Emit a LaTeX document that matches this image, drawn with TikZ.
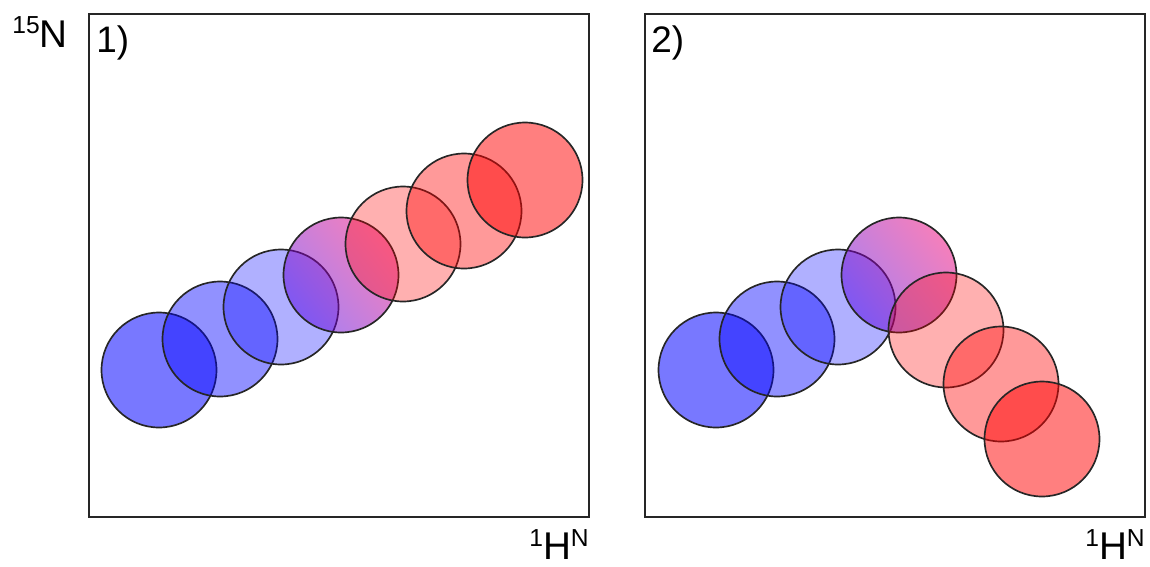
\documentclass[tikz,border=0pt]{standalone}
\usepackage{fontspec}
\setmainfont{Liberation Sans}
\begin{document}
\begin{tikzpicture}[x=0.02cm,y=-0.02cm,
  panel/.style={draw=black!85, line width=0.8pt},
  spot/.style={circle, draw=black!85, line width=0.95pt, minimum size=2.3cm, inner sep=0pt},
  bA/.style={spot, fill=blue, fill opacity=0.53},
  bB/.style={spot, fill=blue, fill opacity=0.43},
  bC/.style={spot, fill=blue, fill opacity=0.31},
  mid/.style={spot, left color={rgb,255:red,80;green,0;blue,230}, right color={rgb,255:red,235;green,0;blue,120}, shading angle=128, fill opacity=0.5},
  rC/.style={spot, fill=red, fill opacity=0.31},
  rB/.style={spot, fill=red, fill opacity=0.40},
  rA/.style={spot, fill=red, fill opacity=0.50},
  big/.style={inner sep=0pt, font=\fontsize{22}{22}\selectfont},
  num/.style={inner sep=0pt, font=\fontsize{21}{21}\selectfont}
]
\useasboundingbox (0,0) rectangle (1150,566);

% panels
\draw[panel] (89,14) rectangle (589,517);
\draw[panel] (645,14) rectangle (1145,517);

% panel 1 circles
\node[bA] (a1) at (159,370) {};
\node[bB] (a2) at (220,339) {};
\node[bC] (a3) at (281,307) {};
\node[mid] (a4) at (341,275) {};
\node[rC] (a5) at (403,244) {};
\node[rB] (a6) at (464,211) {};
\node[rA] (a7) at (525,180) {};

% panel 2 circles
\node[bA] (b1) at (716,370) {};
\node[bB] (b2) at (777,339) {};
\node[bC] (b3) at (838,307) {};
\node[mid] (b4) at (899,275) {};
\node[rC] (b5) at (946,330) {};
\node[rB] (b6) at (1001,384) {};
\node[rA] (b7) at (1042,439) {};

% labels
\node[big, anchor=base west] (ylab) at (12,47) {\raisebox{0.28cm}{\fontsize{14}{14}\selectfont 15}N};
\node[num, anchor=base west] (p1) at (96,52) {1)};
\node[num, anchor=base west] (p2) at (651,52) {2)};
\node[big, anchor=base west] (x1) at (529,559) {\raisebox{0.26cm}{\fontsize{14}{14}\selectfont 1}H\raisebox{0.26cm}{\fontsize{14}{14}\selectfont N}};
\node[big, anchor=base west] (x2) at (1085,559) {\raisebox{0.26cm}{\fontsize{14}{14}\selectfont 1}H\raisebox{0.26cm}{\fontsize{14}{14}\selectfont N}};
\end{tikzpicture}
\end{document}
